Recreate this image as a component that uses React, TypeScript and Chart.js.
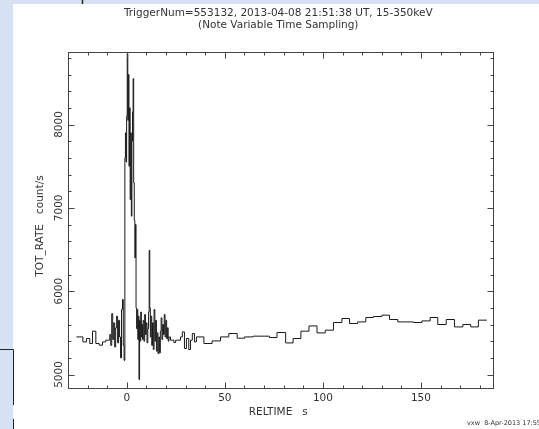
import React, { useEffect, useRef } from 'react';
import { Chart, registerables } from 'chart.js';

Chart.register(...registerables);

const titleLines = [
  'TriggerNum=553132, 2013-04-08 21:51:38 UT, 15-350keV',
  '(Note Variable Time Sampling)',
];
const xAxisTitle = 'RELTIME   s';
const yAxisTitle = 'TOT_RATE   count/s';
const footerText = 'vxw  8-Apr-2013 17:55';

const xTickValues = [0, 50, 100, 150];
const xTickLabels = ['0', '50', '100', '150'];
const yTickValues = [5000, 6000, 7000, 8000];
const yTickLabels = ['5000', '6000', '7000', '8000'];

// bin start times (s, relative to trigger)
const binStartTimes = [
  -25.7, -22.4, -20.6, -18.9, -17.5, -15.8, -14.1, -12.4, -10.7,
  -8.7, -8.2, -7.7, -7.2, -6.7, -6.2, -5.7, -5.2, -4.7, -4.2, -3.7, -3.2, -2.7, -2.2, -1.8, -1.4,
  -1.0, -0.7, -0.4, -0.1, 0.2, 0.5, 0.8, 1.1, 1.4, 1.7, 2.0, 2.3, 2.6, 2.9, 3.2, 3.5, 3.8, 4.1, 4.4, 4.7,
  5.0, 5.3, 5.6, 5.9, 6.2, 6.5, 6.8, 7.1, 7.4, 7.7, 8.0, 8.3, 8.7, 9.1, 9.5, 9.9, 10.3, 10.7,
  11.1, 11.4, 11.7, 12.0, 12.3, 12.7, 13.1, 13.5, 13.9, 14.3, 14.7, 15.1, 15.5, 15.9, 16.3, 16.7, 17.1,
  17.5, 17.9, 18.3, 18.7, 19.1, 19.5, 19.9, 20.3, 20.7, 21.1, 21.5,
  22.3, 24.0, 24.9, 27.4, 28.3, 29.4, 30.4, 31.6, 32.5, 33.4, 34.5, 35.5, 39.3, 43.5,
  47.8, 52.0, 56.3, 60.1, 64.4, 68.5, 72.7, 76.6, 81.0, 84.8, 88.8, 92.9, 97.0, 101.2,
  105.4, 109.7, 113.6, 117.7, 121.9, 125.8, 130.1, 134.0, 138.2, 142.2, 146.2, 150.5,
  154.7, 158.6, 162.9, 167.1, 171.4, 175.4, 179.3,
];
const lastBinEnd = 183.6;

// total count rate (count/s) in each bin
const countRates = [
  5451, 5391, 5432, 5372, 5520, 5372, 5352, 5391, 5412,
  5480, 5350, 5730, 5420, 5620, 5330, 5560, 5700, 5380, 5650, 5450, 5200, 5780, 5900, 5350, 5170,
  7600, 7900, 7550, 8100, 8850, 8050, 8600, 7500, 8200, 7100, 7900, 6900, 7800, 8150, 8550, 7300, 6850, 6400, 6800, 5800,
  5550, 5780, 5420, 5700, 4940, 5650, 5400, 5750, 5450, 5600, 5420, 5650, 5400, 5720, 5480, 5620, 5380, 5550,
  5750, 6490, 5800, 5450, 5700, 5350, 5620, 5300, 5780, 5400, 5650, 5280, 5500, 5250, 5450, 5260, 5520,
  5680, 5420, 5600, 5480, 5720, 5450, 5650, 5430, 5560, 5400, 5450,
  5412, 5384, 5412, 5451, 5511, 5312, 5432, 5300, 5412, 5492, 5391, 5451, 5372, 5403,
  5451, 5492, 5436, 5451, 5460, 5460, 5444, 5504, 5379, 5432, 5520, 5583, 5499, 5532,
  5624, 5672, 5612, 5631, 5684, 5696, 5712, 5660, 5631, 5631, 5624, 5643,
  5684, 5600, 5660, 5571, 5600, 5571, 5652,
];

const FONT = '"DejaVu Sans", sans-serif';
const TEXT = '#333';

export default function App() {
  const ref = useRef<HTMLCanvasElement>(null);

  useEffect(() => {
    const canvas = ref.current!;
    const points = binStartTimes.map((t, i) => ({ x: t, y: countRates[i] }));
    points.push({ x: lastBinEnd, y: countRates[countRates.length - 1] });

    const decor = {
      id: 'decor',
      beforeDraw(chart: any) {
        const ctx = chart.ctx as CanvasRenderingContext2D;
        ctx.save();
        ctx.fillStyle = '#ffffff';
        ctx.fillRect(0, 0, 539, 429);
        ctx.fillStyle = '#d6e1f3';
        ctx.fillRect(0, 0, 539, 4);
        ctx.fillRect(0, 0, 13, 429);
        ctx.strokeStyle = '#222';
        ctx.lineWidth = 1.5;
        ctx.beginPath();
        ctx.moveTo(82.5, 0);
        ctx.lineTo(82.5, 4);
        ctx.stroke();
        ctx.lineWidth = 1;
        ctx.beginPath();
        ctx.moveTo(0, 349.5);
        ctx.lineTo(13.5, 349.5);
        ctx.lineTo(13.5, 405);
        ctx.moveTo(13.5, 419);
        ctx.lineTo(13.5, 429);
        ctx.stroke();
        ctx.restore();
      },
      afterDraw(chart: any) {
        const ctx = chart.ctx as CanvasRenderingContext2D;
        const { left, right, top, bottom } = chart.chartArea;
        const xs = chart.scales.x;
        const ys = chart.scales.y;
        const L = Math.round(left) + 0.5;
        const R = Math.round(right) + 0.5;
        const T = Math.round(top) + 0.5;
        const B = Math.round(bottom) + 0.5;
        ctx.save();
        ctx.strokeStyle = '#444';
        ctx.lineWidth = 1;
        ctx.strokeRect(L, T, R - L, B - T);
        ctx.beginPath();
        // x ticks
        for (let v = -20; v <= 180; v += 10) {
          const px = Math.round(xs.getPixelForValue(v)) + 0.5;
          const len = v % 50 === 0 ? 6 : 3;
          ctx.moveTo(px, B);
          ctx.lineTo(px, B - len);
          ctx.moveTo(px, T);
          ctx.lineTo(px, T + len);
        }
        // y ticks
        for (let v = 5000; v <= 8800; v += 200) {
          const py = Math.round(ys.getPixelForValue(v)) + 0.5;
          const len = v % 1000 === 0 ? 6 : 3;
          ctx.moveTo(L, py);
          ctx.lineTo(L + len, py);
          ctx.moveTo(R, py);
          ctx.lineTo(R - len, py);
        }
        ctx.stroke();

        ctx.fillStyle = TEXT;
        ctx.font = `10.5px ${FONT}`;
        ctx.textAlign = 'center';
        ctx.textBaseline = 'middle';
        xTickValues.forEach((v, i) => {
          ctx.fillText(xTickLabels[i], xs.getPixelForValue(v), bottom + 10);
        });
        yTickValues.forEach((v, i) => {
          ctx.save();
          ctx.translate(left - 9, ys.getPixelForValue(v));
          ctx.rotate(-Math.PI / 2);
          ctx.fillText(yTickLabels[i], 0, 0);
          ctx.restore();
        });
        ctx.fillText(xAxisTitle, (left + right) / 2 - 2, bottom + 24);
        ctx.save();
        ctx.translate(left - 28, (top + bottom) / 2 + 6);
        ctx.rotate(-Math.PI / 2);
        ctx.fillText(yAxisTitle, 0, 0);
        ctx.restore();

        ctx.fillText(titleLines[0], (left + right) / 2 - 2, 13.5);
        ctx.fillText(titleLines[1], (left + right) / 2 - 2, 25.5);

        ctx.font = `6.5px ${FONT}`;
        ctx.textAlign = 'left';
        ctx.fillText(footerText, 467, 423);
        ctx.restore();
      },
    };

    const chart = new Chart(canvas, {
      type: 'line',
      data: {
        datasets: [
          {
            data: points,
            stepped: true,
            borderColor: '#1a1a1a',
            borderWidth: 1,
            pointRadius: 0,
            fill: false,
            tension: 0,
          },
        ],
      },
      options: {
        responsive: false,
        animation: false,
        devicePixelRatio: 1,
        events: [],
        layout: { padding: { left: 68, top: 52, right: 46.5, bottom: 41 } },
        plugins: { legend: { display: false }, tooltip: { enabled: false } },
        scales: {
          x: { type: 'linear', min: -30, max: 186.5, display: false },
          y: { type: 'linear', min: 4838, max: 8870, display: false },
        },
      },
      plugins: [decor],
    } as any);
    return () => chart.destroy();
  }, []);

  return (
    <div style={{ position: 'fixed', left: 0, top: 0, width: 539, height: 429, background: '#fff' }}>
      <canvas ref={ref} width={539} height={429} style={{ display: 'block', width: 539, height: 429 }} />
    </div>
  );
}
